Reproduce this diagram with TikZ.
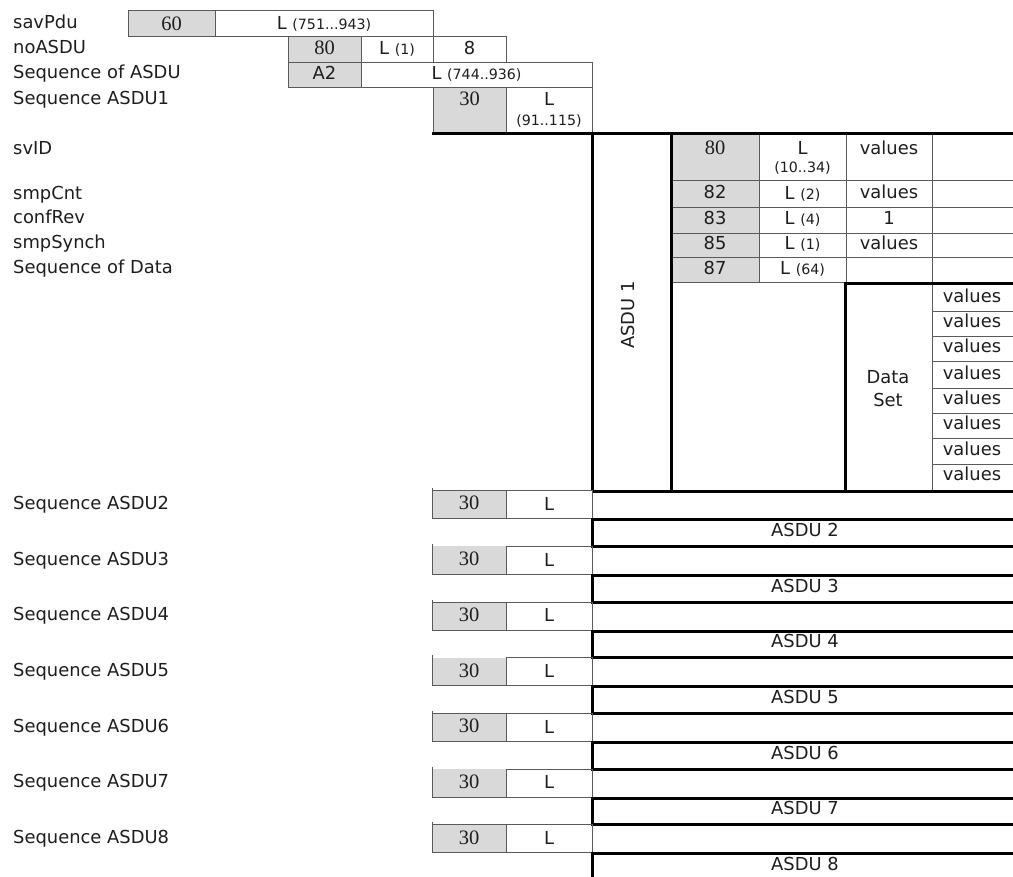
\documentclass[tikz,border=0pt]{standalone}
\usepackage{fontspec}
\setmainfont{DejaVu Sans}
\newfontfamily\numfont{Liberation Serif}
\definecolor{cellgray}{HTML}{D9D9D9}
\definecolor{linec}{HTML}{5A5A5A}
\definecolor{txt}{HTML}{1E1E1E}
\newcommand\mainsz{\fontsize{17.9}{20}\selectfont}
\newcommand\smp[1]{{\fontsize{14.2}{16}\selectfont #1}}
\newcommand\nf[1]{{\numfont\fontsize{20.5}{22}\selectfont #1}}
\tikzset{
  thinl/.style={draw=linec, line width=0.9pt},
  thickl/.style={draw=black, line width=3pt, line join=miter},
  graycell/.style={fill=cellgray},
  lbl/.style={anchor=mid west, inner sep=0pt, font=\mainsz, text=txt},
  ct/.style={anchor=mid, inner sep=0pt, font=\mainsz, text=txt},
}
\begin{document}
\begin{tikzpicture}[x=1pt,y=-1pt]
\useasboundingbox[fill=white] (0,0) rectangle (1013,877);

% ---------- header rows ----------
\fill[graycell] (128,10.7) rectangle (215,36.7);
\draw[thinl] (128,10.7) rectangle (215,36.7);
\draw[thinl] (215,10.7) rectangle (433,36.7);
\fill[graycell] (288,36.7) rectangle (361,62.3);
\draw[thinl] (288,36.7) rectangle (361,62.3);
\draw[thinl] (361,36.7) rectangle (433,62.3);
\draw[thinl] (433,36.7) rectangle (506,62.3);
\fill[graycell] (288,62.3) rectangle (361,87.7);
\draw[thinl] (288,62.3) rectangle (361,87.7);
\draw[thinl] (361,62.3) rectangle (592,87.7);
\fill[graycell] (433,87.7) rectangle (506,134);
\draw[thinl] (433,87.7) rectangle (506,134);
\draw[thinl] (506,87.7) rectangle (592,134);

\node[lbl] (lsav) at (13,26) {savPdu};
\node[lbl] (lno) at (13,51) {noASDU};
\node[lbl] (lseq) at (13,76) {Sequence of ASDU};
\node[lbl] (ls1) at (13,101.5) {Sequence ASDU1};

\node[ct] (c60) at (171.5,27.3) {\nf{60}};
\node[ct] (csavL) at (324,27) {L \smp{(751...943)}};
\node[ct] (c80a) at (324.5,52) {\nf{80}};
\node[ct] (cnoL) at (397,51.5) {L \smp{(1)}};
\node[ct] (c8) at (469.5,51.5) {8};
\node[ct] (cA2) at (324.5,76.5) {A2};
\node[ct] (cseqL) at (476.5,76.5) {L \smp{(744..936)}};
\node[ct] (c30a) at (469.5,102.5) {\nf{30}};
\node[ct] (cs1L) at (549,103) {L};
\node[ct] (cs1Lr) at (549,123) {\smp{(91..115)}};

% ---------- ASDU 1 ----------
\fill[graycell] (671,134) rectangle (759,282);
\foreach \yy in {180,207,233,257,282} {\draw[thinl] (671,\yy) -- (1014,\yy);}
\foreach \xx in {759,846} {\draw[thinl] (\xx,134) -- (\xx,282);}
\draw[thinl] (932,134) -- (932,491);
\foreach \yy in {311,336,361,388,413,438,464} {\draw[thinl] (932,\yy) -- (1014,\yy);}
\draw[thinl] (432,490.7) -- (592,490.7);
\draw[thickl] (432,134) -- (1014,134);
\draw[thickl] (592,134) -- (592,491);
\draw[thickl] (671,134) -- (671,491);
\draw[thickl] (592,491) -- (1014,491);
\draw[thickl] (845,491) -- (845,283.5) -- (1014,283.5);

\node[lbl] (lsv) at (13,152) {svID};
\node[lbl] (lsmp) at (13,197) {smpCnt};
\node[lbl] (lconf) at (13,221) {confRev};
\node[lbl] (lsyn) at (13,246) {smpSynch};
\node[lbl] (lsod) at (13,271) {Sequence of Data};

\node[ct] (c80b) at (715,152) {\nf{80}};
\node[ct] (csvL) at (802.5,151.5) {L};
\node[ct] (csvLr) at (802.5,170) {\smp{(10..34)}};
\node[ct] (csvv) at (889,151.5) {values};
\node[ct] (c82) at (715,196) {82};
\node[ct] (c82L) at (802.5,196.5) {L \smp{(2)}};
\node[ct] (c82v) at (889,196) {values};
\node[ct] (c83) at (715,221.5) {83};
\node[ct] (c83L) at (802.5,222) {L \smp{(4)}};
\node[ct] (c83v) at (889,221.5) {1};
\node[ct] (c85) at (715,246.5) {85};
\node[ct] (c85L) at (802.5,247) {L \smp{(1)}};
\node[ct] (c85v) at (889,246.5) {values};
\node[ct] (c87) at (715,271.5) {87};
\node[ct] (c87L) at (802.5,272) {L \smp{(64)}};

\node[ct, rotate=90] (asdu1) at (632,315) {ASDU 1};
\node[anchor=center, inner sep=0pt, text=txt, align=center, font=\fontsize{17.9}{23}\selectfont] (dset) at (888,389) {Data\\Set};
\foreach \yy [count=\i] in {300,325,350,376.5,401.5,426.5,452.5,478} {
  \node[ct] (dv\i) at (972,\yy) {values};
}

% ---------- ASDU 2..8 ----------
\foreach \k in {0,...,6} {
  \pgfmathsetmacro\t{490.7+55.7*\k}
  \pgfmathsetmacro\tb{\t+28}
  \pgfmathsetmacro\ba{\t+29}
  \pgfmathsetmacro\bb{min(\t+55.7,878.3)}
  \pgfmathtruncatemacro\n{\k+2}
  \fill[graycell] (432,\t) rectangle (506,\tb);
  \draw[thinl] (432,\t-2.5) -- (432,\tb) -- (592,\tb) -- (592,\t) -- (506,\t) -- (506,\tb);
  \draw[thickl] (1015,\ba) -- (592,\ba) -- (592,\bb) -- (1015,\bb);
  \node[lbl] (ls\n) at (13,\t+16) {Sequence ASDU\n};
  \node[ct] (c30s\n) at (469,\t+16.5) {\nf{30}};
  \node[ct] (cLs\n) at (549,\t+17) {L};
  \node[ct] (asdu\n) at (805,\t+43) {ASDU \n};
}
\foreach \k in {0,2,4,6} {
  \pgfmathsetmacro\t{490.7+55.7*\k}
  \draw[thinl] (432,\t) -- (506,\t);
}
\end{tikzpicture}
\end{document}
